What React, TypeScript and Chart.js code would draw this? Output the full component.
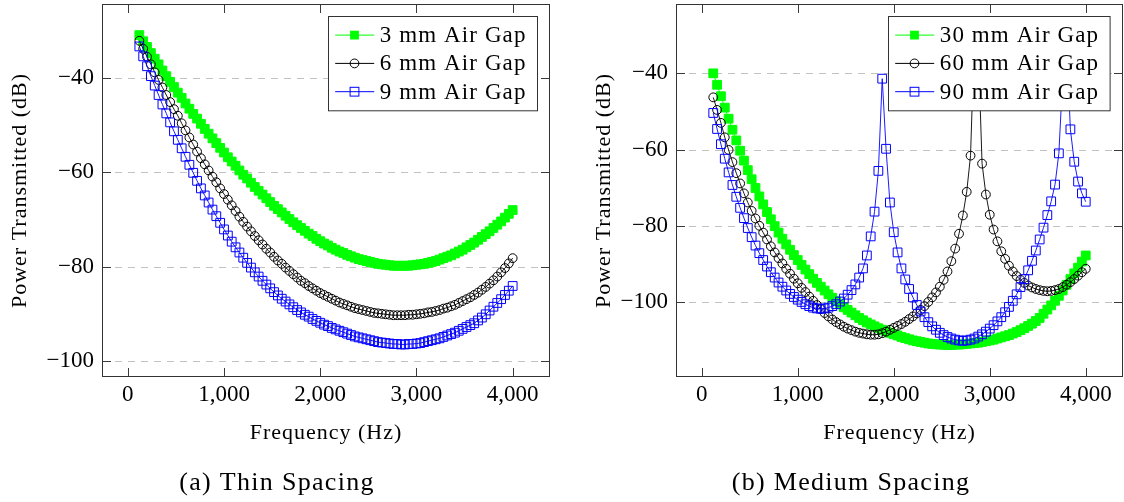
import React, { useEffect, useRef } from 'react';
import { Chart, registerables } from 'chart.js';

Chart.register(...registerables);

// ---------- data ----------
const FREQ_HZ = [
  120, 160, 200, 240, 280, 320, 360, 400, 440, 480,
  520, 560, 600, 640, 680, 720, 760, 800, 840, 880,
  920, 960, 1000, 1040, 1080, 1120, 1160, 1200, 1240, 1280,
  1320, 1360, 1400, 1440, 1480, 1520, 1560, 1600, 1640, 1680,
  1720, 1760, 1800, 1840, 1880, 1920, 1960, 2000, 2040, 2080,
  2120, 2160, 2200, 2240, 2280, 2320, 2360, 2400, 2440, 2480,
  2520, 2560, 2600, 2640, 2680, 2720, 2760, 2800, 2840, 2880,
  2920, 2960, 3000, 3040, 3080, 3120, 3160, 3200, 3240, 3280,
  3320, 3360, 3400, 3440, 3480, 3520, 3560, 3600, 3640, 3680,
  3720, 3760, 3800, 3840, 3880, 3920, 3960, 4000,
];

// (a) Thin spacing
const THIN_3MM = [
  -30.9, -32.2, -33.4, -34.7, -35.9, -37.1, -38.4, -39.6, -40.8, -41.9,
  -43.1, -44.2, -45.4, -46.5, -47.6, -48.6, -49.7, -50.8, -51.8, -52.8,
  -53.8, -54.8, -55.8, -56.8, -57.7, -58.6, -59.6, -60.5, -61.3, -62.2,
  -63.1, -63.9, -64.7, -65.5, -66.3, -67.1, -67.8, -68.5, -69.2, -69.9,
  -70.6, -71.2, -71.8, -72.4, -73.0, -73.5, -74.1, -74.6, -75.1, -75.5,
  -76.0, -76.4, -76.8, -77.1, -77.5, -77.8, -78.1, -78.4, -78.6, -78.8,
  -79.0, -79.2, -79.4, -79.5, -79.6, -79.7, -79.8, -79.8, -79.8, -79.8,
  -79.8, -79.7, -79.6, -79.5, -79.4, -79.2, -79.0, -78.8, -78.5, -78.2,
  -77.9, -77.6, -77.2, -76.8, -76.4, -75.9, -75.4, -74.9, -74.3, -73.7,
  -73.1, -72.5, -71.8, -71.1, -70.4, -69.6, -68.8, -68.0,
];
const THIN_6MM = [
  -32.1, -33.8, -35.5, -37.1, -38.8, -40.4, -42.0, -43.6, -45.1, -46.6,
  -48.0, -49.6, -51.1, -52.6, -54.1, -55.6, -57.0, -58.3, -59.6, -60.9,
  -62.1, -63.4, -64.6, -65.8, -67.0, -68.2, -69.4, -70.5, -71.5, -72.5,
  -73.5, -74.4, -75.3, -76.2, -77.0, -77.9, -78.7, -79.4, -80.2, -80.9,
  -81.6, -82.3, -83.0, -83.5, -84.1, -84.6, -85.1, -85.6, -86.0, -86.4,
  -86.8, -87.2, -87.6, -87.9, -88.2, -88.5, -88.8, -89.0, -89.2, -89.4,
  -89.6, -89.8, -89.9, -90.0, -90.1, -90.2, -90.3, -90.3, -90.3, -90.3,
  -90.2, -90.2, -90.1, -90.0, -89.9, -89.7, -89.6, -89.4, -89.2, -88.9,
  -88.7, -88.4, -88.1, -87.7, -87.3, -86.9, -86.5, -86.0, -85.5, -84.9,
  -84.3, -83.6, -82.9, -82.1, -81.2, -80.3, -79.3, -78.2,
];
const THIN_9MM = [
  -33.3, -35.4, -37.5, -39.6, -41.6, -43.6, -45.6, -47.5, -49.4, -51.3,
  -53.1, -54.9, -56.7, -58.4, -60.1, -61.8, -63.4, -64.9, -66.4, -67.9,
  -69.3, -70.7, -72.1, -73.4, -74.7, -75.9, -77.0, -78.1, -79.2, -80.2,
  -81.2, -82.1, -83.0, -83.8, -84.6, -85.4, -86.1, -86.8, -87.4, -88.0,
  -88.6, -89.2, -89.7, -90.2, -90.6, -91.1, -91.5, -91.9, -92.3, -92.6,
  -93.0, -93.3, -93.6, -93.9, -94.2, -94.5, -94.8, -95.0, -95.2, -95.4,
  -95.6, -95.8, -96.0, -96.1, -96.2, -96.3, -96.4, -96.4, -96.5, -96.5,
  -96.4, -96.4, -96.3, -96.2, -96.0, -95.8, -95.6, -95.4, -95.2, -94.9,
  -94.6, -94.3, -94.0, -93.6, -93.2, -92.8, -92.4, -92.0, -91.4, -90.8,
  -90.1, -89.3, -88.5, -87.7, -86.9, -86.0, -85.1, -84.1,
];

// (b) Medium spacing
const MED_30MM = [
  -40.0, -43.0, -46.0, -49.0, -51.9, -54.8, -57.6, -60.3, -62.9, -65.4,
  -67.8, -70.1, -72.3, -74.4, -76.4, -78.3, -80.1, -81.8, -83.4, -84.9,
  -86.3, -87.7, -89.0, -90.3, -91.5, -92.7, -93.9, -95.0, -96.0, -97.0,
  -98.0, -98.9, -99.8, -100.6, -101.4, -102.1, -102.8, -103.5, -104.2, -104.8,
  -105.4, -105.9, -106.4, -106.9, -107.3, -107.7, -108.1, -108.5, -108.8, -109.2,
  -109.5, -109.8, -110.1, -110.3, -110.5, -110.7, -110.9, -111.0, -111.1, -111.2,
  -111.2, -111.3, -111.3, -111.2, -111.2, -111.1, -111.0, -110.9, -110.8, -110.7,
  -110.5, -110.3, -110.1, -109.9, -109.6, -109.3, -109.0, -108.7, -108.3, -107.9,
  -107.4, -106.9, -106.3, -105.7, -105.0, -104.2, -103.1, -102.0, -100.9, -99.7,
  -98.4, -97.0, -95.5, -94.0, -92.5, -91.0, -89.4, -87.8,
];
const MED_60MM = [
  -46.3, -49.6, -53.0, -56.8, -60.1, -63.3, -66.2, -68.9, -71.5, -73.9,
  -76.1, -78.1, -80.0, -81.8, -83.6, -85.4, -87.0, -88.5, -89.9, -91.3,
  -92.6, -93.9, -95.1, -96.3, -97.4, -98.6, -99.7, -100.8, -101.9, -102.9,
  -103.8, -104.6, -105.3, -105.9, -106.5, -107.0, -107.4, -107.8, -108.1, -108.3,
  -108.5, -108.6, -108.6, -108.5, -108.2, -107.8, -107.3, -106.8, -106.3, -105.8,
  -105.2, -104.5, -103.8, -103.0, -102.1, -101.1, -100.0, -98.8, -97.5, -96.0,
  -94.2, -92.0, -89.3, -86.0, -82.1, -77.3, -71.1, -61.6, -30.0, -33.0,
  -63.7, -71.8, -77.1, -81.0, -84.1, -86.7, -88.7, -90.5, -92.0, -93.2,
  -94.2, -95.0, -95.7, -96.2, -96.6, -96.9, -97.1, -97.2, -97.1, -96.9,
  -96.6, -96.1, -95.5, -94.8, -94.0, -93.1, -92.2, -91.3,
];
const MED_90MM = [
  -50.4, -54.6, -58.6, -62.4, -66.0, -69.3, -72.4, -75.3, -78.0, -80.6,
  -83.0, -85.2, -87.2, -89.0, -90.7, -92.2, -93.6, -94.9, -96.0, -97.0,
  -97.9, -98.7, -99.4, -100.0, -100.6, -101.1, -101.5, -101.7, -101.8, -101.7,
  -101.5, -101.1, -100.6, -99.9, -99.1, -98.1, -96.9, -95.4, -93.6, -91.2,
  -87.8, -82.8, -76.3, -65.6, -41.4, -59.8, -73.9, -81.7, -87.0, -91.2,
  -94.1, -96.6, -98.8, -100.8, -102.5, -104.0, -105.3, -106.4, -107.3, -108.1,
  -108.7, -109.2, -109.6, -109.9, -110.1, -110.2, -110.1, -109.9, -109.6, -109.1,
  -108.5, -107.8, -107.0, -106.1, -105.1, -104.0, -102.7, -101.3, -99.7, -98.0,
  -96.1, -94.0, -91.7, -89.2, -86.5, -83.6, -80.5, -77.2, -73.6, -69.2,
  -61.0, -41.0, -31.5, -54.7, -63.2, -68.4, -71.5, -73.7,
];

const THIN_LABELS = ['3 mm Air Gap', '6 mm Air Gap', '9 mm Air Gap'];
const MED_LABELS = ['30 mm Air Gap', '60 mm Air Gap', '90 mm Air Gap'];
const X_TICKS = [0, 1000, 2000, 3000, 4000];
const Y_TICKS = [-100, -80, -60, -40];
const X_LIMITS = [-268, 4388];
const THIN_Y_LIMITS = [-103.4, -24.3];
const MED_Y_LIMITS = [-119.7, -21.8];
const X_TITLE = 'Frequency (Hz)';
const Y_TITLE = 'Power Transmitted (dB)';
const CAPTIONS = ['(a) Thin Spacing', '(b) Medium Spacing'];

// ---------- styling ----------
const SERIF = '"Liberation Serif", "Times New Roman", serif';
const STYLES = [
  { color: '#00ff00', fill: '#00ff00', marker: 'fsquare' },
  { color: '#000000', fill: 'rgba(0,0,0,0)', marker: 'circle' },
  { color: '#0000ff', fill: 'rgba(0,0,0,0)', marker: 'square' },
];
const W = 562;
const H = 502;

function drawMarker(ctx: CanvasRenderingContext2D, kind: string, color: string, x: number, y: number) {
  ctx.save();
  ctx.lineWidth = 1;
  ctx.strokeStyle = color;
  ctx.fillStyle = color;
  if (kind === 'fsquare') {
    ctx.fillRect(x - 4.4, y - 4.4, 8.8, 8.8);
  } else if (kind === 'square') {
    ctx.strokeRect(x - 4.4, y - 4.4, 8.8, 8.8);
  } else {
    ctx.beginPath();
    ctx.arc(x, y, 4.4, 0, Math.PI * 2);
    ctx.stroke();
  }
  ctx.restore();
}

function pgfPlugin(p: any) {
  return {
    id: 'pgf' + p.key,
    beforeDatasetsDraw(chart: any) {
      const { ctx, chartArea: a } = chart;
      const xs = chart.scales.x;
      const ys = chart.scales.y;
      ctx.save();
      ctx.lineWidth = 1;
      ctx.strokeStyle = '#c2c2c2';
      ctx.setLineDash([7, 6]);
      ys.ticks.forEach((t: any) => {
        const y = Math.round(ys.getPixelForValue(t.value)) + 0.5;
        ctx.beginPath();
        ctx.moveTo(a.left, y);
        ctx.lineTo(a.right, y);
        ctx.stroke();
      });
      ctx.setLineDash([]);
      ctx.strokeStyle = '#3a3a3a';
      ys.ticks.forEach((t: any) => {
        const y = Math.round(ys.getPixelForValue(t.value)) + 0.5;
        ctx.beginPath();
        ctx.moveTo(a.left, y);
        ctx.lineTo(a.left + 9, y);
        ctx.moveTo(a.right - 9, y);
        ctx.lineTo(a.right, y);
        ctx.stroke();
      });
      xs.ticks.forEach((t: any) => {
        const x = Math.round(xs.getPixelForValue(t.value)) + 0.5;
        ctx.beginPath();
        ctx.moveTo(x, a.bottom);
        ctx.lineTo(x, a.bottom - 9);
        ctx.moveTo(x, a.top);
        ctx.lineTo(x, a.top + 9);
        ctx.stroke();
      });
      ctx.restore();
    },
    afterDraw(chart: any) {
      const { ctx, chartArea: a } = chart;
      ctx.save();
      // frame
      ctx.strokeStyle = '#333333';
      ctx.lineWidth = 1;
      ctx.strokeRect(a.left + 0.5, a.top + 0.5, a.right - a.left - 1, a.bottom - a.top - 1);

      // legend
      ctx.font = `23px ${SERIF}`;
      (ctx as any).letterSpacing = '1.1px';
      const maxW = Math.max(...p.labels.map((l: string) => ctx.measureText(l).width));
      const boxW = 51.3 + maxW + 11;
      const boxH = 94.3;
      const bx = Math.round(a.right - 13 - boxW) + 0.5;
      const by = Math.round(a.top + 11.7) + 0.5;
      ctx.fillStyle = '#ffffff';
      ctx.fillRect(bx, by, boxW, boxH);
      ctx.strokeStyle = '#333333';
      ctx.strokeRect(bx, by, boxW, boxH);
      p.labels.forEach((label: string, i: number) => {
        const st = STYLES[i];
        const ry = by + 18.6 + i * 28.3;
        ctx.strokeStyle = st.color;
        ctx.lineWidth = 1;
        ctx.beginPath();
        ctx.moveTo(bx + 6.7, ry);
        ctx.lineTo(bx + 45.7, ry);
        ctx.stroke();
        drawMarker(ctx, st.marker, st.color, bx + 26, ry);
        ctx.fillStyle = '#000';
        ctx.textAlign = 'left';
        ctx.textBaseline = 'alphabetic';
        ctx.fillText(label, bx + 51.3, ry + 7);
      });

      // axis titles
      (ctx as any).letterSpacing = '1px';
      ctx.fillStyle = '#000';
      ctx.font = `22px ${SERIF}`;
      ctx.textAlign = 'center';
      ctx.textBaseline = 'alphabetic';
      ctx.fillText(X_TITLE, (a.left + a.right) / 2, 439);
      ctx.save();
      ctx.translate(p.yTitleX, (a.top + a.bottom) / 2);
      ctx.rotate(-Math.PI / 2);
      ctx.textBaseline = 'middle';
      ctx.fillText(Y_TITLE, 0, 0);
      ctx.restore();

      // caption
      (ctx as any).letterSpacing = '1.3px';
      ctx.font = `26px ${SERIF}`;
      ctx.textAlign = 'center';
      ctx.textBaseline = 'alphabetic';
      ctx.fillText(p.caption, p.captionX, 490);
      (ctx as any).letterSpacing = '0px';
      ctx.restore();
    },
  };
}

function makeConfig(p: any): any {
  const tickFont = { family: SERIF, size: 23 };
  return {
    type: 'line',
    data: {
      datasets: p.series.map((vals: number[], i: number) => {
        const st = STYLES[i];
        return {
          label: p.labels[i],
          data: FREQ_HZ.map((f, k) => ({ x: f, y: vals[k] })),
          borderColor: st.color,
          backgroundColor: st.fill,
          borderWidth: 0.9,
          pointStyle: st.marker === 'circle' ? 'circle' : 'rect',
          pointRadius: st.marker === 'circle' ? 4.4 : 6.2,
          pointBackgroundColor: st.fill,
          pointBorderColor: st.color,
          pointBorderWidth: 1,
          tension: 0,
          order: 3 - i,
        };
      }),
    },
    options: {
      responsive: false,
      animation: false,
      events: [],
      layout: { autoPadding: false, padding: { left: 0, right: p.padRight, top: 4, bottom: 0 } },
      plugins: { legend: { display: false }, tooltip: { enabled: false }, title: { display: false } },
      scales: {
        x: {
          type: 'linear',
          min: X_LIMITS[0],
          max: X_LIMITS[1],
          afterBuildTicks: (s: any) => { s.ticks = X_TICKS.map((v) => ({ value: v })); },
          afterFit: (s: any) => { s.height = 125; s.paddingLeft = 0; s.paddingRight = 0; },
          grid: { display: false, drawTicks: false },
          border: { display: false },
          ticks: {
            autoSkip: false,
            maxRotation: 0,
            minRotation: 0,
            padding: 4,
            color: '#000',
            font: tickFont,
            callback: (v: number) => Number(v).toLocaleString('en-US'),
          },
        },
        y: {
          type: 'linear',
          min: p.yLimits[0],
          max: p.yLimits[1],
          afterBuildTicks: (s: any) => { s.ticks = Y_TICKS.map((v) => ({ value: v })); },
          afterFit: (s: any) => { s.width = p.left; s.paddingTop = 0; s.paddingBottom = 0; },
          grid: { display: false, drawTicks: false },
          border: { display: false },
          ticks: {
            autoSkip: false,
            padding: 8,
            color: '#000',
            font: tickFont,
            callback: (v: number) => (v < 0 ? '\u2212' + Math.abs(v) : String(v)),
          },
        },
      },
    },
    plugins: [pgfPlugin(p)],
  };
}

const PANELS = [
  {
    key: 'a', series: [THIN_3MM, THIN_6MM, THIN_9MM], labels: THIN_LABELS, yLimits: THIN_Y_LIMITS,
    left: 102, padRight: 12, yTitleX: 20, caption: CAPTIONS[0], captionX: 277, offsetX: 0,
  },
  {
    key: 'b', series: [MED_30MM, MED_60MM, MED_90MM], labels: MED_LABELS, yLimits: MED_Y_LIMITS,
    left: 114, padRight: 1, yTitleX: 42, caption: CAPTIONS[1], captionX: 289, offsetX: 562,
  },
];

function Panel({ p }: { p: any }) {
  const ref = useRef<HTMLCanvasElement | null>(null);
  useEffect(() => {
    if (!ref.current) return;
    const chart = new Chart(ref.current, makeConfig(p));
    return () => chart.destroy();
  }, [p]);
  return (
    <canvas
      ref={ref}
      width={W}
      height={H}
      style={{ position: 'absolute', left: p.offsetX, top: 0, width: W, height: H }}
    />
  );
}

export default function App() {
  return (
    <div style={{ position: 'fixed', left: 0, top: 0, width: 1124, height: 502, background: '#fff', overflow: 'hidden' }}>
      {PANELS.map((p) => (
        <Panel key={p.key} p={p} />
      ))}
    </div>
  );
}
